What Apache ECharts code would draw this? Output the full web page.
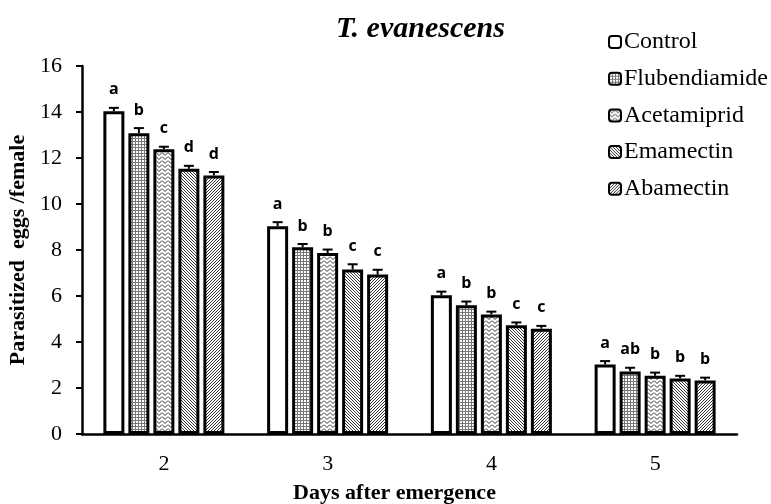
<!DOCTYPE html>
<html>
<head>
<meta charset="utf-8">
<script src="https://cdn.jsdelivr.net/npm/echarts@6/dist/echarts.min.js"></script>
<style>html,body{margin:0;padding:0;background:#fff;}#c{width:771px;height:504px;}</style>
</head>
<body>
<div id="c"></div>
<script>
// ---- data ----
const days = ['2', '3', '4', '5'];
const treatments = ['Control', 'Flubendiamide', 'Acetamiprid', 'Emamectin', 'Abamectin'];
const control       = [14.03, 9.03, 6.03, 3.02];
const flubendiamide = [13.08, 8.12, 5.60, 2.72];
const acetamiprid   = [12.38, 7.87, 5.20, 2.53];
const emamectin     = [11.53, 7.15, 4.73, 2.41];
const abamectin     = [11.24, 6.93, 4.58, 2.33];
const controlErr       = [0.15, 0.18, 0.16, 0.15];
const flubendiamideErr = [0.22, 0.14, 0.16, 0.16];
const acetamipridErr   = [0.11, 0.15, 0.12, 0.14];
const emamectinErr     = [0.13, 0.23, 0.12, 0.12];
const abamectinErr     = [0.15, 0.21, 0.12, 0.12];
const controlLetters       = ['a', 'a', 'a', 'a'];
const flubendiamideLetters = ['b', 'b', 'b', 'ab'];
const acetamipridLetters   = ['c', 'b', 'b', 'b'];
const emamectinLetters     = ['d', 'c', 'c', 'b'];
const abamectinLetters     = ['d', 'c', 'c', 'b'];
const yTicks = [0, 2, 4, 6, 8, 10, 12, 14, 16];

const values = [control, flubendiamide, acetamiprid, emamectin, abamectin];
const errs = [controlErr, flubendiamideErr, acetamipridErr, emamectinErr, abamectinErr];
const letters = [controlLetters, flubendiamideLetters, acetamipridLetters, emamectinLetters, abamectinLetters];

// ---- patterns ----
function makePattern(kind) {
  const c = document.createElement('canvas');
  let w = 3, h = 3;
  if (kind === 'wave') { w = 6; h = 4; }
  if (kind === 'grid') { w = 3; h = 3; }
  c.width = w; c.height = h;
  const g = c.getContext('2d');
  g.fillStyle = '#fff'; g.fillRect(0, 0, w, h);
  g.fillStyle = '#333';
  if (kind === 'grid') {
    g.fillStyle = '#777';
    g.fillRect(0, 0, w, 1); g.fillRect(0, 0, 1, h);
  } else if (kind === 'wave') {
    g.strokeStyle = '#333'; g.lineWidth = 1;
    g.beginPath(); g.moveTo(0, 0.5); g.lineTo(3, 3.5); g.lineTo(6, 0.5); g.stroke();
  } else if (kind === 'bdiag') {
    for (let i = 0; i < 3; i++) { g.fillRect(i, i, 1, 1); }
  } else if (kind === 'fdiag') {
    for (let i = 0; i < 3; i++) { g.fillRect(2 - i, i, 1, 1); }
  }
  return { image: c, repeat: 'repeat' };
}
const fills = ['#ffffff', makePattern('grid'), makePattern('wave'), makePattern('bdiag'), makePattern('fdiag')];

const BAR_W = 21, BAR_GAP = 4;
const serif = '"Liberation Serif", "Times New Roman", serif';

const series = [];
treatments.forEach((name, i) => {
  series.push({
    name: name, type: 'bar', data: values[i],
    barWidth: BAR_W, barGap: (BAR_GAP / BAR_W * 100) + '%',
    itemStyle: { color: fills[i], borderColor: '#000', borderWidth: 3 },
    z: 2
  });
});
treatments.forEach((name, i) => {
  series.push({
    name: name + ' err', type: 'custom', z: 5,
    data: days.map((d, k) => [k, values[i][k], errs[i][k]]),
    renderItem: function (params, api) {
      const k = api.value(0), v = api.value(1), e = api.value(2);
      const off = (i - 2) * (BAR_W + BAR_GAP);
      const pTop = api.coord([k, v + e]);
      const pMid = api.coord([k, v]);
      const x = pTop[0] + off;
      return {
        type: 'group',
        children: [
          { type: 'line', shape: { x1: x, y1: pMid[1], x2: x, y2: pTop[1] }, style: { stroke: '#000', lineWidth: 2 } },
          { type: 'line', shape: { x1: x - 5, y1: pTop[1], x2: x + 5, y2: pTop[1] }, style: { stroke: '#000', lineWidth: 2 } },
          { type: 'text', x: x, y: pTop[1] - 10,
            style: { text: letters[i][params.dataIndex], fill: '#000', font: 'bold 16px "Open Sans", "Liberation Sans", sans-serif', textAlign: 'center', textVerticalAlign: 'bottom' } }
        ]
      };
    }
  });
});

const chart = echarts.init(document.getElementById('c'));
chart.setOption({
  animation: false,
  backgroundColor: '#fff',
  title: {
    text: 'T. evanescens', left: 331, top: 9,
    textStyle: { fontFamily: serif, fontSize: 30, fontWeight: 'bold', fontStyle: 'italic', color: '#000' }
  },
  legend: {
    data: treatments, orient: 'vertical', left: 603, top: 25,
    itemWidth: 12, itemHeight: 12, itemGap: 12.7,
    textStyle: { fontFamily: serif, fontSize: 24, color: '#000', lineHeight: 24, padding: [0, 0, 0, -2] },
    itemStyle: { borderColor: '#000', borderWidth: 2 }
  },
  grid: { left: 82, right: 34, top: 66, bottom: 70, outerBoundsMode: 'none', containLabel: false },
  xAxis: {
    type: 'category', data: days,
    name: 'Days after emergence', nameLocation: 'middle', nameGap: 48,
    nameTextStyle: { fontFamily: serif, fontSize: 22, fontWeight: 'bold', color: '#000', padding: [0, 30, 0, 0] },
    axisLine: { lineStyle: { color: '#000', width: 2.5 } },
    axisTick: { show: false },
    axisLabel: { fontFamily: serif, fontSize: 22, color: '#000', margin: 19 }
  },
  yAxis: {
    type: 'value', min: yTicks[0], max: yTicks[yTicks.length - 1], interval: 2,
    name: 'Parasitized  eggs /female', nameLocation: 'middle', nameGap: 53,
    nameTextStyle: { fontFamily: serif, fontSize: 22, fontWeight: 'bold', color: '#000' },
    axisLine: { show: true, lineStyle: { color: '#000', width: 2.5 } },
    axisTick: { show: true, inside: false, length: 6, lineStyle: { color: '#000', width: 2 } },
    axisLabel: { fontFamily: serif, fontSize: 22, color: '#000', margin: 20 },
    splitLine: { show: false }
  },
  series: series
});
</script>
</body>
</html>
